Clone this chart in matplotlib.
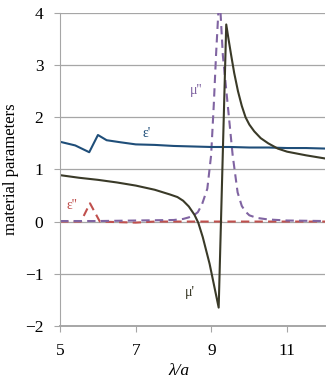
import numpy as np
import matplotlib
matplotlib.use("Agg")
import matplotlib.pyplot as plt

# ---- data ----
eps_re_x = [5.0, 5.4, 5.77, 6.0, 6.23, 6.6, 7.0, 7.5, 8.0, 8.5, 9.0, 9.5, 10.0, 10.5, 11.0, 11.5, 12.0]
eps_re_y = [1.53, 1.46, 1.33, 1.66, 1.56, 1.52, 1.48, 1.47, 1.45, 1.44, 1.43, 1.43, 1.42, 1.42, 1.41, 1.41, 1.40]

mu_re_x = [5.0, 5.5, 6.0, 6.5, 7.0, 7.5, 7.9, 8.1, 8.25, 8.4, 8.55, 8.65, 8.77, 8.95, 9.19, 9.39,
           9.45, 9.52, 9.6, 9.7, 9.8, 9.9, 10.0, 10.13, 10.3, 10.5, 10.75, 11.0, 11.5, 12.0]
mu_re_y = [0.89, 0.84, 0.80, 0.75, 0.69, 0.61, 0.52, 0.47, 0.40, 0.29, 0.13, -0.02, -0.30, -0.81, -1.65, 3.78,
           3.5, 3.19, 2.85, 2.5, 2.22, 2.0, 1.86, 1.73, 1.6, 1.5, 1.4, 1.34, 1.27, 1.21]

mu_im_x = [5.0, 6.0, 7.0, 8.0, 8.25, 8.4, 8.55, 8.64, 8.75, 8.89, 8.99, 9.06, 9.12, 9.21, 9.30, 9.43,
           9.56, 9.69, 9.8, 9.9, 10.0, 10.2, 10.5, 11.0, 12.0]
mu_im_y = [0.01, 0.01, 0.02, 0.03, 0.05, 0.08, 0.13, 0.18, 0.33, 0.63, 1.27, 2.23, 3.19, 4.4, 3.19, 2.23,
           1.27, 0.56, 0.3, 0.19, 0.12, 0.07, 0.04, 0.02, 0.01]

eps_im_x = [5.0, 5.55, 5.79, 6.05, 6.5, 7.0, 7.5, 8.0, 9.0, 10.0, 11.0, 12.0]
eps_im_y = [0.0, 0.0, 0.35, 0.0, -0.01, -0.02, 0.0, 0.0, 0.0, 0.0, 0.0, 0.0]

x_ticks = [5, 7, 9, 11]
y_ticks = [-2, -1, 0, 1, 2, 3, 4]

# ---- colours ----
c_blue = "#1F4E79"
c_dark = "#3A3A28"
c_purple = "#8064A2"
c_red = "#C0504D"
c_grid = "#A6A6A6"

plt.rcParams['font.family'] = ['Liberation Serif', 'DejaVu Serif']

fig = plt.figure(figsize=(3.32, 3.82), dpi=100)
ax = fig.add_axes([0.181, 0.147, 0.798, 0.819])

ax.plot(eps_im_x, eps_im_y, color=c_red, lw=1.5, dashes=(4, 2.5))
ax.plot(mu_im_x, mu_im_y, color=c_purple, lw=1.5, dashes=(4, 2.5))
ax.plot(eps_re_x, eps_re_y, color=c_blue, lw=1.5)
ax.plot(mu_re_x, mu_re_y, color=c_dark, lw=1.5)

ax.set_xlim(5, 12)
ax.set_ylim(-2, 4)
ax.set_xticks(x_ticks)
ax.set_yticks(y_ticks)

ax.yaxis.grid(True, color=c_grid, lw=0.9)
ax.set_axisbelow(True)
for s in ['top', 'right']:
    ax.spines[s].set_visible(False)
ax.spines['left'].set_color(c_grid)
ax.spines['bottom'].set_color(c_grid)
ax.spines['bottom'].set_linewidth(1.4)
ax.tick_params(axis='both', colors=c_grid, labelcolor='black', labelsize=12.5, length=4)
ax.tick_params(axis='y', pad=8)
ax.tick_params(axis='x', pad=8)

ax.set_ylabel("material parameters", fontsize=12)
ax.yaxis.set_label_coords(-0.155, 0.5)
ax.set_xlabel("λ/a", fontsize=12.5, fontstyle='italic')
ax.xaxis.set_label_coords(0.45, -0.12)

# curve labels
ax.text(7.29, 1.69, "ε'", color=c_blue, fontsize=10, ha='center', va='center')
ax.text(8.6, 2.52, "μ''", color=c_purple, fontsize=10, ha='center', va='center')
ax.text(5.32, 0.31, "ε''", color=c_red, fontsize=10, ha='center', va='center')
ax.text(8.42, -1.37, "μ'", color=c_dark, fontsize=10, ha='center', va='center')

fig.savefig("out.png", dpi=100)
